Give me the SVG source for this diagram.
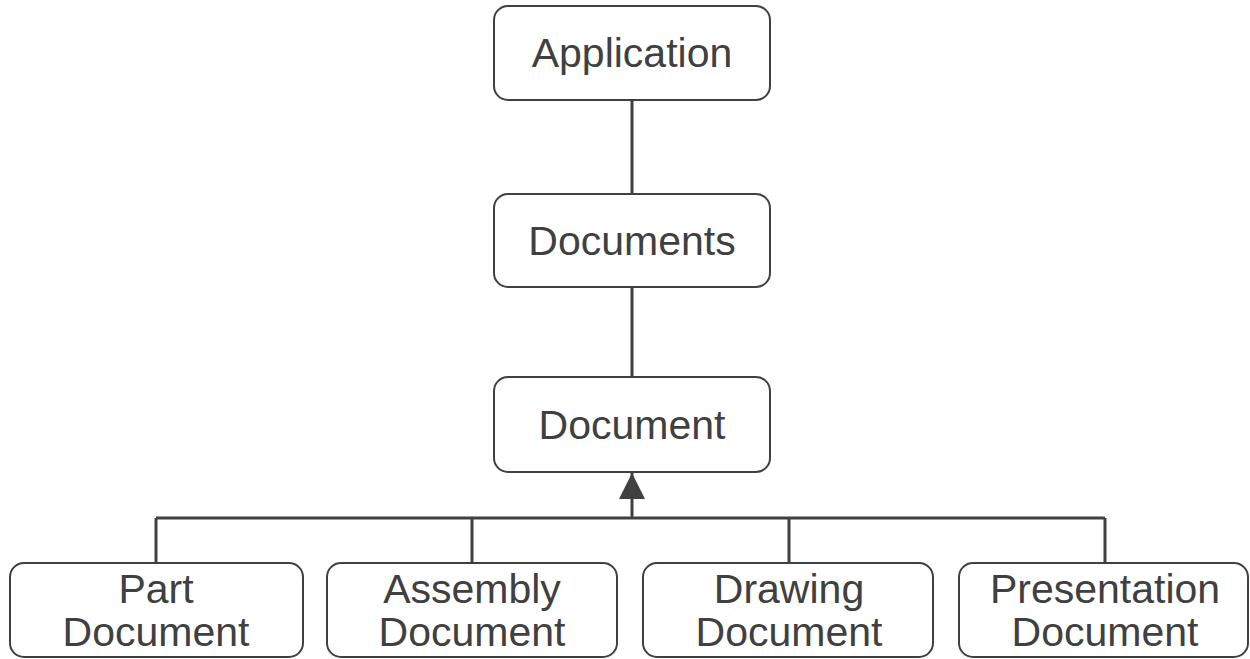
<svg xmlns="http://www.w3.org/2000/svg" width="1250" height="659" viewBox="0 0 1250 659">
<defs>
<style>
.box{fill:#fff;stroke:#404040;stroke-width:2}
.t{font-family:"Liberation Sans",Arial,sans-serif;font-size:41px;fill:#404040;text-anchor:middle}
.c{stroke:#404040;stroke-width:3;fill:none}
</style>
<marker id="tri" markerWidth="26" markerHeight="26" viewBox="0 0 26 26" refX="26" refY="13" orient="auto" markerUnits="userSpaceOnUse">
<path d="M0,0 L26,13 L0,26 Z" fill="#404040"/>
</marker>
</defs>
<rect width="1250" height="659" fill="#fff"/>
<g id="connectors">
<line class="c" x1="632" y1="100" x2="632" y2="194"/>
<line class="c" x1="632" y1="287" x2="632" y2="377"/>
<line class="c" x1="156" y1="518" x2="1105" y2="518"/>
<line class="c" x1="156" y1="518" x2="156" y2="563"/>
<line class="c" x1="472" y1="518" x2="472" y2="563"/>
<line class="c" x1="789" y1="518" x2="789" y2="563"/>
<line class="c" x1="1105" y1="518" x2="1105" y2="563"/>
<line class="c" x1="632" y1="518" x2="632" y2="473" marker-end="url(#tri)"/>
</g>
<g id="application">
<rect class="box" x="494" y="6" width="276" height="94" rx="14"/>
<text class="t" x="632" y="67">Application</text>
</g>
<g id="documents">
<rect class="box" x="494" y="194" width="276" height="93" rx="14"/>
<text class="t" x="632" y="255">Documents</text>
</g>
<g id="document">
<rect class="box" x="494" y="377" width="276" height="95" rx="14"/>
<text class="t" x="632" y="439">Document</text>
</g>
<g id="part">
<rect class="box" x="10" y="563" width="293" height="94" rx="14"/>
<text class="t" x="156" y="603">Part</text>
<text class="t" x="156" y="646">Document</text>
</g>
<g id="assembly">
<rect class="box" x="327" y="563" width="290" height="94" rx="14"/>
<text class="t" x="472" y="603">Assembly</text>
<text class="t" x="472" y="646">Document</text>
</g>
<g id="drawing">
<rect class="box" x="643" y="563" width="290" height="94" rx="14"/>
<text class="t" x="789" y="603">Drawing</text>
<text class="t" x="789" y="646">Document</text>
</g>
<g id="presentation">
<rect class="box" x="959" y="563" width="289" height="94" rx="14"/>
<text class="t" x="1105" y="603">Presentation</text>
<text class="t" x="1105" y="646">Document</text>
</g>
</svg>
